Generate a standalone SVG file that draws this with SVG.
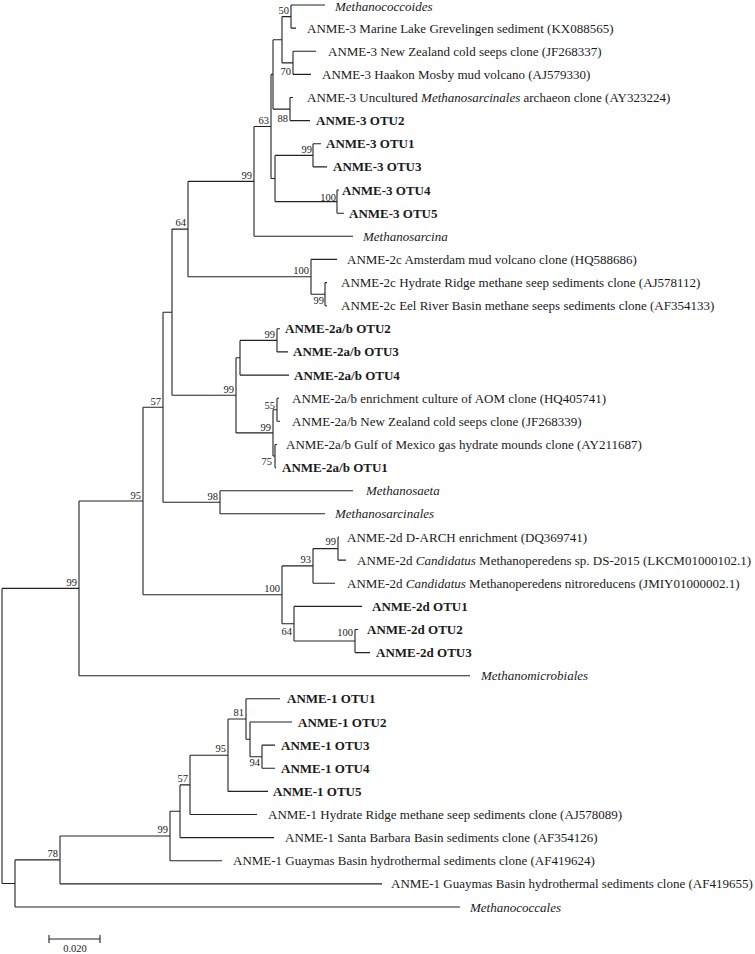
<svg xmlns="http://www.w3.org/2000/svg" width="755" height="954" viewBox="0 0 755 954">
<style>
.br{fill:none;stroke:#222;stroke-width:1.1}
.lf{font-family:"Liberation Serif","Times New Roman",serif;font-size:13px;fill:#1a1a1a}
.b{font-weight:bold}
.i{font-style:italic}
.bs{font-family:"Liberation Serif","Times New Roman",serif;font-size:10.5px;fill:#1a1a1a;text-anchor:end}
.sc{font-family:"Liberation Serif","Times New Roman",serif;font-size:10.5px;fill:#1a1a1a;text-anchor:middle}
</style>
<rect width="755" height="954" fill="#fff"/>
<g id="connectors">
<path class="br" d="M291 5V28.1M291 5H325M291 28.1H296"/>
<path class="br" d="M293 51.3V74.4M293 51.3H316M293 74.4H311"/>
<path class="br" d="M282 16.6V62.9M282 16.6H291M282 62.9H293"/>
<path class="br" d="M290 97.5V120.6M290 97.5H293M290 120.6H310"/>
<path class="br" d="M273 39.7V109.1M273 39.7H282M273 109.1H290"/>
<path class="br" d="M313 143.8V166.9M313 143.8H321M313 166.9H327"/>
<path class="br" d="M337 190V213.2M337 190H339M337 213.2H344"/>
<path class="br" d="M275 155.4V201.6M275 155.4H313M275 201.6H337"/>
<path class="br" d="M271 74.4V178.5M271 74.4H273M271 178.5H275"/>
<path class="br" d="M254 126.5V236.3M254 126.5H271M254 236.3H353"/>
<path class="br" d="M325 282.6V305.7M325 282.6H327M325 305.7H327"/>
<path class="br" d="M311 259.4V294.2M311 259.4H337M311 294.2H325"/>
<path class="br" d="M188 181.4V276.8M188 181.4H254M188 276.8H311"/>
<path class="br" d="M277 328.8V351.9M277 328.8H280M277 351.9H288"/>
<path class="br" d="M240 340.4V375.1M240 340.4H277M240 375.1H289"/>
<path class="br" d="M277 398.2V421.3M277 398.2H279M277 421.3H280"/>
<path class="br" d="M275 444.5V467.6M275 444.5H277M275 467.6H276"/>
<path class="br" d="M273 409.8V456M273 409.8H277M273 456H275"/>
<path class="br" d="M236 357.7V432.9M236 357.7H240M236 432.9H273"/>
<path class="br" d="M172 229.1V395.3M172 229.1H188M172 395.3H236"/>
<path class="br" d="M220 490.7V513.8M220 490.7H353M220 513.8H325"/>
<path class="br" d="M163 312.2V502.3M163 312.2H172M163 502.3H220"/>
<path class="br" d="M338 537V560.1M338 537H339M338 560.1H346"/>
<path class="br" d="M313 548.6V583.2M313 548.6H338M313 583.2H335"/>
<path class="br" d="M355 629.5V652.6M355 629.5H358M355 652.6H370"/>
<path class="br" d="M294 606.4V641M294 606.4H362M294 641H355"/>
<path class="br" d="M282 565.9V623.7M282 565.9H313M282 623.7H294"/>
<path class="br" d="M143 407.2V594.8M143 407.2H163M143 594.8H282"/>
<path class="br" d="M79 501V675.7M79 501H143M79 675.7H470"/>
<path class="br" d="M262 745.1V768.2M262 745.1H275M262 768.2H275"/>
<path class="br" d="M250 722V756.7M250 722H292M250 756.7H262"/>
<path class="br" d="M246 698.8V739.3M246 698.8H280M246 739.3H250"/>
<path class="br" d="M228 719V791.4M228 719H246M228 791.4H268"/>
<path class="br" d="M190 755.2V814.5M190 755.2H228M190 814.5H257"/>
<path class="br" d="M180 784.9V837.6M180 784.9H190M180 837.6H274"/>
<path class="br" d="M170 811.2V860.8M170 811.2H180M170 860.8H222"/>
<path class="br" d="M60 836V883.9M60 836H170M60 883.9H382"/>
<path class="br" d="M15 859.9V907M15 859.9H60M15 907H460"/>
<path class="br" d="M2 588.4V883.5M2 588.4H79M2 883.5H15"/>
</g>
<g id="bootstrap">
<g id="node-n50"><text class="bs" x="289" y="14">50</text></g>
<g id="node-n70"><text class="bs" x="291" y="75">70</text></g>
<g id="node-n88"><text class="bs" x="288" y="122">88</text></g>
<g id="node-n63"><text class="bs" x="269" y="124">63</text></g>
<g id="node-n99a"><text class="bs" x="312" y="153">99</text></g>
<g id="node-n100a"><text class="bs" x="336" y="201">100</text></g>
<g id="node-n99b"><text class="bs" x="252" y="179">99</text></g>
<g id="node-n100b"><text class="bs" x="309" y="274">100</text></g>
<g id="node-n99c"><text class="bs" x="324" y="304">99</text></g>
<g id="node-n64"><text class="bs" x="186" y="226">64</text></g>
<g id="node-n99d"><text class="bs" x="275" y="338">99</text></g>
<g id="node-n99f"><text class="bs" x="234" y="393">99</text></g>
<g id="node-n55"><text class="bs" x="275" y="409">55</text></g>
<g id="node-n99e"><text class="bs" x="271" y="431">99</text></g>
<g id="node-n75"><text class="bs" x="272" y="465">75</text></g>
<g id="node-n57"><text class="bs" x="161" y="405">57</text></g>
<g id="node-n98"><text class="bs" x="218" y="500">98</text></g>
<g id="node-n95"><text class="bs" x="141" y="499">95</text></g>
<g id="node-n99g"><text class="bs" x="336" y="545">99</text></g>
<g id="node-n93"><text class="bs" x="311" y="563">93</text></g>
<g id="node-n100d"><text class="bs" x="280" y="592">100</text></g>
<g id="node-n64b"><text class="bs" x="292" y="635">64</text></g>
<g id="node-n100c"><text class="bs" x="353" y="636">100</text></g>
<g id="node-n99h"><text class="bs" x="77" y="586">99</text></g>
<g id="node-n81"><text class="bs" x="244" y="716">81</text></g>
<g id="node-n94"><text class="bs" x="260" y="766">94</text></g>
<g id="node-n95b"><text class="bs" x="226" y="752">95</text></g>
<g id="node-n57b"><text class="bs" x="188" y="782">57</text></g>
<g id="node-n99i"><text class="bs" x="168" y="833">99</text></g>
<g id="node-n78"><text class="bs" x="58" y="857">78</text></g>
</g>
<g id="leaves">
<g id="leaf-01"><text class="lf i" x="335" y="10.5">Methanococcoides</text></g>
<g id="leaf-02"><text class="lf" x="307" y="32.6">ANME-3 Marine Lake Grevelingen sediment (KX088565)</text></g>
<g id="leaf-03"><text class="lf" x="328" y="55.8">ANME-3 New Zealand cold seeps clone (JF268337)</text></g>
<g id="leaf-04"><text class="lf" x="322" y="78.9">ANME-3 Haakon Mosby mud volcano (AJ579330)</text></g>
<g id="leaf-05"><text class="lf" x="307" y="102">ANME-3 Uncultured <tspan class="i">Methanosarcinales</tspan> archaeon clone (AY323224)</text></g>
<g id="leaf-06"><text class="lf b" x="316" y="125.1">ANME-3 OTU2</text></g>
<g id="leaf-07"><text class="lf b" x="326" y="148.3">ANME-3 OTU1</text></g>
<g id="leaf-08"><text class="lf b" x="333" y="171.4">ANME-3 OTU3</text></g>
<g id="leaf-09"><text class="lf b" x="342" y="194.5">ANME-3 OTU4</text></g>
<g id="leaf-10"><text class="lf b" x="349" y="217.7">ANME-3 OTU5</text></g>
<g id="leaf-11"><text class="lf i" x="363" y="240.8">Methanosarcina</text></g>
<g id="leaf-12"><text class="lf" x="347" y="263.9">ANME-2c Amsterdam mud volcano clone (HQ588686)</text></g>
<g id="leaf-13"><text class="lf" x="341" y="287.1">ANME-2c Hydrate Ridge methane seep sediments clone (AJ578112)</text></g>
<g id="leaf-14"><text class="lf" x="341" y="310.2">ANME-2c Eel River Basin methane seeps sediments clone (AF354133)</text></g>
<g id="leaf-15"><text class="lf b" x="285" y="333.3">ANME-2a/b OTU2</text></g>
<g id="leaf-16"><text class="lf b" x="293" y="356.4">ANME-2a/b OTU3</text></g>
<g id="leaf-17"><text class="lf b" x="294" y="379.6">ANME-2a/b OTU4</text></g>
<g id="leaf-18"><text class="lf" x="292" y="402.7">ANME-2a/b enrichment culture of AOM clone (HQ405741)</text></g>
<g id="leaf-19"><text class="lf" x="292" y="425.8">ANME-2a/b New Zealand cold seeps clone (JF268339)</text></g>
<g id="leaf-20"><text class="lf" x="286" y="449">ANME-2a/b Gulf of Mexico gas hydrate mounds clone (AY211687)</text></g>
<g id="leaf-21"><text class="lf b" x="282" y="472.1">ANME-2a/b OTU1</text></g>
<g id="leaf-22"><text class="lf i" x="366" y="495.2">Methanosaeta</text></g>
<g id="leaf-23"><text class="lf i" x="335" y="518.3">Methanosarcinales</text></g>
<g id="leaf-24"><text class="lf" x="347" y="541.5">ANME-2d D-ARCH enrichment (DQ369741)</text></g>
<g id="leaf-25"><text class="lf" x="357" y="564.6">ANME-2d <tspan class="i">Candidatus</tspan> Methanoperedens sp. DS-2015 (LKCM01000102.1)</text></g>
<g id="leaf-26"><text class="lf" x="347" y="587.7">ANME-2d <tspan class="i">Candidatus</tspan> Methanoperedens nitroreducens (JMIY01000002.1)</text></g>
<g id="leaf-27"><text class="lf b" x="372" y="610.9">ANME-2d OTU1</text></g>
<g id="leaf-28"><text class="lf b" x="367" y="634">ANME-2d OTU2</text></g>
<g id="leaf-29"><text class="lf b" x="376" y="657.1">ANME-2d OTU3</text></g>
<g id="leaf-30"><text class="lf i" x="481" y="680.2">Methanomicrobiales</text></g>
<g id="leaf-31"><text class="lf b" x="287" y="703.3">ANME-1 OTU1</text></g>
<g id="leaf-32"><text class="lf b" x="298" y="726.5">ANME-1 OTU2</text></g>
<g id="leaf-33"><text class="lf b" x="281" y="749.6">ANME-1 OTU3</text></g>
<g id="leaf-34"><text class="lf b" x="281" y="772.7">ANME-1 OTU4</text></g>
<g id="leaf-35"><text class="lf b" x="273" y="795.9">ANME-1 OTU5</text></g>
<g id="leaf-36"><text class="lf" x="268" y="819">ANME-1 Hydrate Ridge methane seep sediments clone (AJ578089)</text></g>
<g id="leaf-37"><text class="lf" x="285" y="842.1">ANME-1 Santa Barbara Basin sediments clone (AF354126)</text></g>
<g id="leaf-38"><text class="lf" x="233" y="865.3">ANME-1 Guaymas Basin hydrothermal sediments clone (AF419624)</text></g>
<g id="leaf-39"><text class="lf" x="391" y="888.4">ANME-1 Guaymas Basin hydrothermal sediments clone (AF419655)</text></g>
<g id="leaf-40"><text class="lf i" x="470" y="911.5">Methanococcales</text></g>
</g>
<g id="scale-bar">
<path class="br" d="M49 939H100M49 935V943M100 935V943"/>
<text class="sc" x="75" y="952">0.020</text>
</g>
</svg>
